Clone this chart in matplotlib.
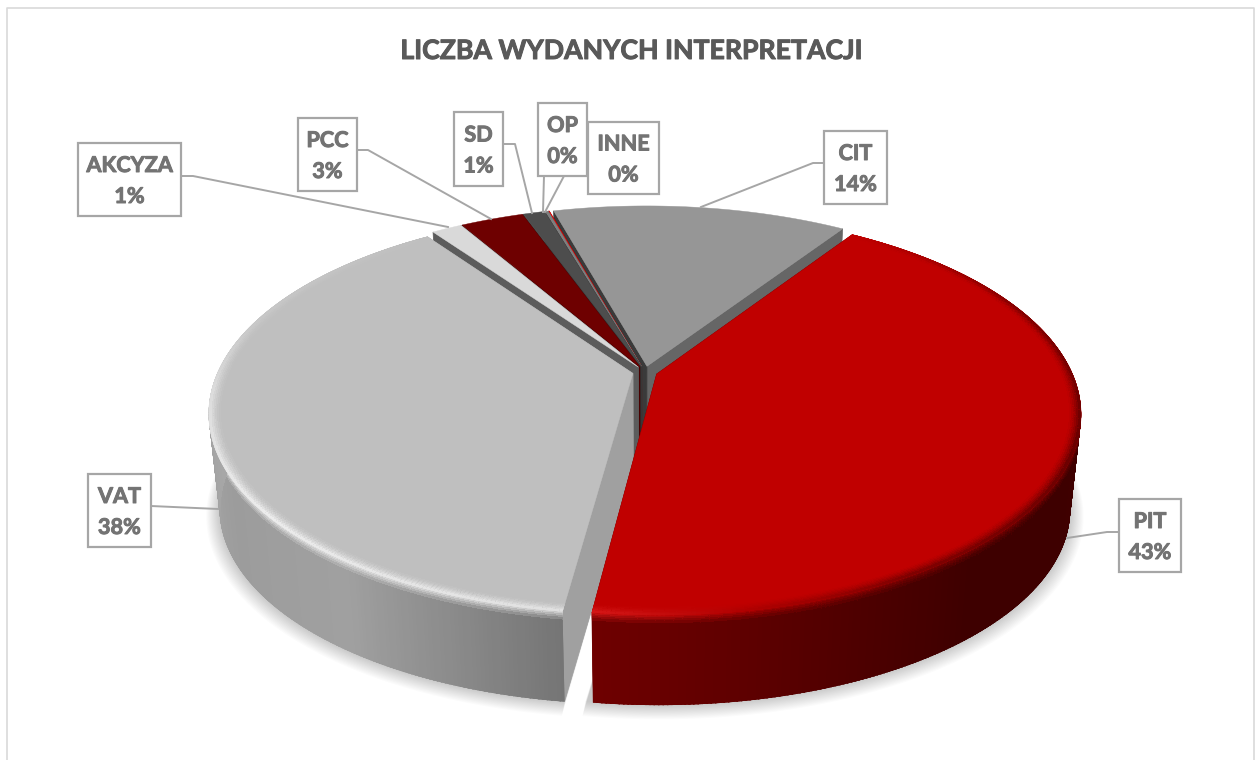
import numpy as np
import matplotlib
matplotlib.use("Agg")
import matplotlib.pyplot as plt
import matplotlib.patheffects as pe
from matplotlib.collections import PolyCollection
from matplotlib.colors import to_rgb
from matplotlib.patches import Polygon, Rectangle

# Chart data, clockwise from the start angle
categories = ["CIT", "PIT", "VAT", "AKCYZA", "PCC", "SD", "OP", "INNE"]
shares = [13.6, 42.8, 38.1, 1.4, 2.9, 1.0, 0.15, 0.05]
title = "LICZBA WYDANYCH INTERPRETACJI"

# Slice colours
top_colors = ["#969696", "#c00000", "#bfbfbf", "#d9d9d9", "#6e0000", "#4d4d4d", "#7f7f7f", "#ff0000"]
wall_colors = [("#3a3a3a", "#666666"), ("#700000", "#700000"), ("#a0a0a0", "#a0a0a0"),
               ("#5c5c5c", "#5c5c5c"), ("#4a0000", "#4a0000"), ("#333333", "#333333"),
               ("#555555", "#555555"), ("#800000", "#800000")]

# Side colours by angle (only the two big front slices show them)
rim_stops = {
    "PIT": [(33, "#400000"), (140, "#3e0000"), (155, "#4c0000"), (172, "#600000"), (189, "#700000")],
    "VAT": [(187, "#747474"), (200, "#8a8a8a"), (215, "#a0a0a0"), (240, "#9c9c9c"), (270, "#a8a8a8"), (325, "#a8a8a8")],
}
edge_stops = {
    "PIT": [(33, "#c00000"), (70, "#800000"), (110, "#6a0000"), (150, "#800000"), (170, "#b00000"), (189, "#d81818")],
    "VAT": [(187, "#e0e0e0"), (230, "#ececec"), (265, "#dcdcdc"), (285, "#c8c8c8"), (325, "#bfbfbf")],
}

# Label boxes (left, top, right, bottom) and leader lines, in pixels
label_boxes = {
    "AKCYZA": (78, 143, 181, 216), "PCC": (298, 118, 357, 191), "SD": (454, 112, 503, 186),
    "OP": (538, 103, 587, 176), "INNE": (588, 122, 659, 194), "CIT": (824, 131, 887, 204),
    "VAT": (88, 474, 151, 547), "PIT": (1119, 499, 1181, 572),
}
leaders = {
    "AKCYZA": [(181, 176), (193, 176), (448, 227)], "PCC": [(357, 150), (368, 150), (491, 219)],
    "SD": [(503, 144), (515, 144), (532, 213)], "OP": [(544, 176), (543, 212)],
    "INNE": [(564, 176), (545, 212)], "CIT": [(824, 163), (813, 163), (701, 207)],
    "VAT": [(151, 506), (218, 509)], "PIT": [(1119, 532), (1107, 532), (1067, 538)],
}

# Pie projection: ellipse with a little perspective, bottom plane a bit smaller
CX, CY, A, B, K = 645, 372, 415, 193.5, 0.194
DEPTH_CY, DEPTH_SCALE = 468, 0.975
EXPLODE = 0.03
START = -15.5


def project(theta, radius, shift, level=0.0):
    # theta in degrees clockwise from the back of the pie, level 0 = top, 1 = bottom
    t = np.radians(theta)
    u = radius * np.sin(t) + shift[0]
    v = -radius * np.cos(t) + shift[1]
    s = 1 / (1 - K * v)
    m = 1 + (DEPTH_SCALE - 1) * level
    y0 = CY + (DEPTH_CY - CY) * level
    return CX + A * u * s * m, y0 + B * v * s * m


def stop_color(stops, theta):
    angles = [p[0] for p in stops]
    rgb = np.array([to_rgb(p[1]) for p in stops])
    return np.array([np.interp(theta, angles, rgb[:, i]) for i in range(3)])


def convex_hull(points):
    # monotone chain, used for the outline of the slice side
    pts = sorted(set(points))

    def half(seq):
        out = []
        for p in seq:
            while len(out) > 1 and ((out[-1][0] - out[-2][0]) * (p[1] - out[-2][1])
                                    - (out[-1][1] - out[-2][1]) * (p[0] - out[-2][0])) <= 0:
                out.pop()
            out.append(p)
        return out[:-1]

    return half(pts) + half(pts[::-1])


def quad_strip(ax, polys, colors, clip_pts, z):
    # no antialiasing between the quads (it gives stripes), the clip path smooths the outline
    pc = PolyCollection(polys, facecolors=colors, edgecolors=colors, linewidths=0.8,
                        antialiased=False, zorder=z)
    ax.add_collection(pc)
    pc.set_clip_path(Polygon(clip_pts, closed=True, transform=ax.transData))


fig = plt.figure(figsize=(12.55, 7.6), dpi=100)
ax = fig.add_axes([0, 0, 1, 1])
ax.set_xlim(0, 1255)
ax.set_ylim(760, 0)
ax.axis("off")
plt.rcParams["font.family"] = ["Lato", "DejaVu Sans"]

# Chart frame
ax.plot([7, 7, 1254, 1254], [760, 8, 8, 760], color="#d9d9d9", lw=1.2, zorder=1)

# Slice angles
edges = START + np.cumsum([0] + shares) * 3.6
mids = (edges[:-1] + edges[1:]) / 2
shifts = [(EXPLODE * np.sin(np.radians(m)), -EXPLODE * np.cos(np.radians(m))) for m in mids]

# Soft shadow under the whole pie
for i in range(14):
    grow = 1.0 + i * 0.0025
    for n in range(2):
        pts = []
        for theta in np.arange(edges[1 + n], edges[2 + n] + 1, 1.0):
            pts.append(project(theta, grow, shifts[1 + n], 1.0 + i * 0.004))
        pts.append(project(edges[1 + n], 0, shifts[1 + n], 1.0))
        ax.add_patch(Polygon(pts, closed=True, fc="#000000", ec="none", alpha=0.015, zorder=2))

# Painter's order: back slices first, PIT last
draw_order = [0, 7, 6, 5, 4, 3, 2, 1]
z = 3
for idx in draw_order:
    name = categories[idx]
    t0, t1 = edges[idx], edges[idx + 1]
    shift = shifts[idx]

    # Cut walls of the slice
    for theta, col in zip((t1, t0), (wall_colors[idx][1], wall_colors[idx][0])):
        wall = [project(t0, 0, shift, 0), project(theta, 1, shift, 0),
                project(theta, 1, shift, 1), project(t0, 0, shift, 1)]
        ax.add_patch(Polygon(wall, closed=True, fc=col, ec=col, lw=0.5, zorder=z))
    z += 1

    arc = np.linspace(t0, t1, max(2, int((t1 - t0) * 2) + 1))

    # Outer side, with a short fade from the bevel edge into the side colour
    if name in rim_stops:
        levels = [0, 0.015, 0.03, 0.05, 0.07, 0.1, 1]
        polys, colors = [], []
        for a0, a1 in zip(arc[:-1], arc[1:]):
            side = stop_color(rim_stops[name], a0)
            edge = stop_color(edge_stops[name], a0)
            for j, (l0, l1) in enumerate(zip(levels[:-1], levels[1:])):
                polys.append([project(a0, 1, shift, l0), project(a1, 1, shift, l0),
                              project(a1, 1, shift, l1), project(a0, 1, shift, l1)])
                f = min(1.0, j / 5)
                colors.append(edge * (1 - f) + side * f)
        band = convex_hull([project(a, 1, shift, 0) for a in arc] + [project(a, 1, shift, 1) for a in arc])
        quad_strip(ax, polys, colors, band, z)
        z += 1

    # Top face
    top = [project(t0, 0, shift)] + [project(a, 1, shift) for a in arc]
    ax.add_patch(Polygon(top, closed=True, fc=top_colors[idx], ec=top_colors[idx], lw=0.3, zorder=z))
    z += 1

    # Bevel rings along the outer edge of the top
    if name in edge_stops:
        radii = np.linspace(0.975, 1.0, 7)
        polys, colors = [], []
        for a0, a1 in zip(arc[:-1], arc[1:]):
            edge = stop_color(edge_stops[name], a0)
            for j, (r0, r1) in enumerate(zip(radii[:-1], radii[1:])):
                polys.append([project(a0, r0, shift), project(a1, r0, shift),
                              project(a1, r1, shift), project(a0, r1, shift)])
                f = ((j + 1) / 6) ** 1.5
                colors.append(np.array(to_rgb(top_colors[idx])) * (1 - f) + edge * f)
        quad_strip(ax, polys, colors, top, z)
        z += 1

# Title
title_txt = ax.text(631, 51, title, ha="center", va="center", fontsize=19.2, fontweight="bold",
                    color="#595959", zorder=z)
title_txt.set_path_effects([pe.withStroke(linewidth=0.7, foreground="#595959")])
z += 1

# Leader lines and label boxes
for name in categories:
    xs = [p[0] for p in leaders[name]]
    ys = [p[1] for p in leaders[name]]
    ax.plot(xs, ys, color="#a6a6a6", lw=1.4, zorder=z)
for name, share in zip(categories, shares):
    x0, y0, x1, y1 = label_boxes[name]
    ax.add_patch(Rectangle((x0, y0), x1 - x0, y1 - y0, fc="white", ec="#a6a6a6", lw=1.6, zorder=z + 1))
    mid_x, mid_y = (x0 + x1) / 2, (y0 + y1) / 2
    for offset, line in ((-14, name), (17, "{}%".format(int(round(share))))):
        txt = ax.text(mid_x, mid_y + offset, line, ha="center", va="center", fontsize=15.6,
                      fontweight="bold", color="#737373", zorder=z + 2)
        txt.set_path_effects([pe.withStroke(linewidth=0.7, foreground="#737373")])

fig.savefig("out.png", dpi=100)
